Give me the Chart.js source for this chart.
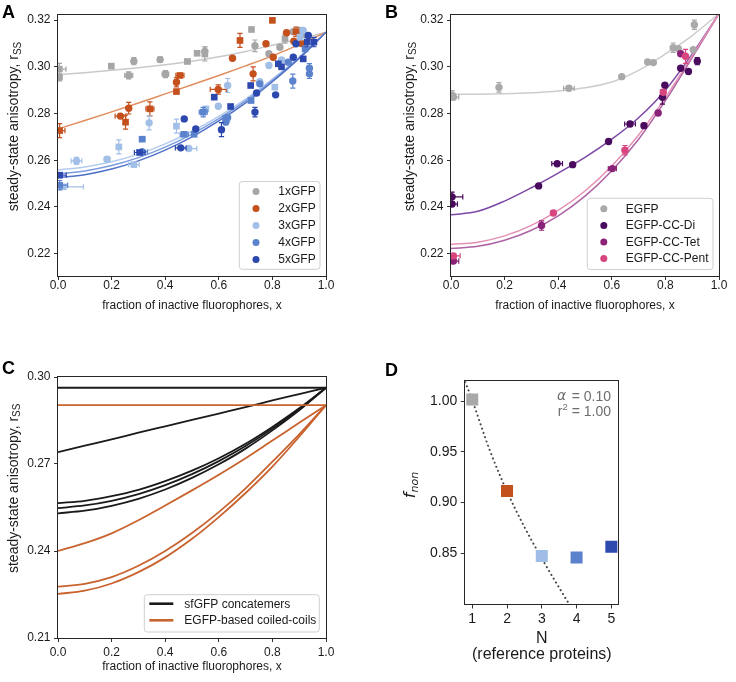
<!DOCTYPE html>
<html><head><meta charset="utf-8">
<script src="https://cdn.jsdelivr.net/npm/chart.js@4.4.1/dist/chart.umd.min.js"></script>
<style>
html,body{margin:0;padding:0;background:#fff;}
#wrap{position:relative;width:736px;height:682px;overflow:hidden;background:#fff;}
#wrap canvas{position:absolute;left:0;top:0;}
.lbl{position:absolute;font-family:"Liberation Sans",Arial,sans-serif;font-weight:bold;font-size:18px;line-height:18px;color:#000;}
</style></head><body>
<div id="wrap">
<canvas id="cA" width="736" height="682"></canvas>
<canvas id="cB" width="736" height="682"></canvas>
<canvas id="cC" width="736" height="682"></canvas>
<canvas id="cD" width="736" height="682"></canvas>
<div class="lbl" style="left:2px;top:3px">A</div>
<div class="lbl" style="left:385px;top:3px">B</div>
<div class="lbl" style="left:2px;top:359px">C</div>
<div class="lbl" style="left:385px;top:361px">D</div>
</div>
<script>
// ---------------- DATA ----------------
// shared x grid of fitted curves
const fitX = [0, 0.1, 0.2, 0.3, 0.4, 0.5, 0.6, 0.7, 0.8, 0.9, 1.0];
const xTicks01 = [0, 0.2, 0.4, 0.6, 0.8, 1.0];

// Panel A : sfGFP concatemers  [x, r_ss, xerr, yerr, marker]
const seriesA = ['1xGFP', '2xGFP', '3xGFP', '4xGFP', '5xGFP'];
const gfp1Points = [
  [0.005,0.2990,0.025,0.0025,'s'],[0.005,0.2955,0.010,0.0015,'s'],[0.199,0.3003,0,0,'s'],
  [0.264,0.2963,0.015,0.0015,'c'],[0.283,0.3024,0,0.0015,'c'],[0.381,0.3031,0,0.0012,'c'],
  [0.401,0.2969,0.012,0.0015,'c'],[0.483,0.3023,0.010,0,'s'],[0.519,0.3058,0,0,'s'],
  [0.548,0.3055,0,0.003,'s'],[0.548,0.3066,0,0.002,'c'],[0.722,0.3160,0,0,'s'],
  [0.735,0.3090,0,0.0025,'c'],[0.787,0.3056,0,0,'c'],[0.828,0.3084,0,0,'c'],
  [0.847,0.3121,0,0.002,'s'],[0.878,0.3150,0,0,'c'],[0.905,0.3157,0,0,'s'],[0.915,0.3140,0,0,'c']
];
const gfp2Points = [
  [0.006,0.2727,0.020,0.003,'s'],[0.233,0.2789,0.020,0,'c'],[0.252,0.2763,0,0.003,'s'],
  [0.264,0.2823,0,0.0025,'c'],[0.343,0.2820,0.015,0.003,'s'],[0.442,0.2894,0,0,'s'],
  [0.442,0.2934,0,0.002,'c'],[0.455,0.2963,0.015,0,'s'],[0.598,0.2903,0.030,0.002,'c'],
  [0.651,0.3037,0,0,'c'],[0.679,0.3113,0,0.003,'s'],[0.728,0.2970,0,0.003,'c'],
  [0.776,0.3099,0,0,'c'],[0.800,0.3199,0,0,'s'],[0.803,0.3041,0,0,'c'],
  [0.853,0.3146,0,0,'c'],[0.888,0.3150,0,0.002,'s'],[0.880,0.3110,0,0,'c'],[0.909,0.3100,0,0,'c']
];
const gfp3Points = [
  [0.020,0.2486,0.075,0,'s'],[0.069,0.2597,0.020,0.0015,'c'],[0.183,0.2604,0.010,0,'c'],
  [0.227,0.2657,0,0.003,'s'],[0.283,0.2581,0.020,0,'s'],[0.340,0.2760,0,0.003,'c'],
  [0.442,0.2746,0,0.003,'s'],[0.488,0.2650,0.030,0,'c'],[0.552,0.2820,0,0,'s'],
  [0.598,0.2831,0,0,'c'],[0.629,0.2771,0,0,'c'],[0.633,0.2920,0,0.003,'c'],
  [0.720,0.2857,0,0,'s'],[0.753,0.2936,0,0,'c'],[0.787,0.3006,0,0,'c'],
  [0.809,0.2913,0,0,'s'],[0.834,0.3029,0,0,'c'],[0.903,0.3127,0,0,'s'],[0.915,0.3156,0,0,'c']
];
const gfp4Points = [
  [0.006,0.2493,0.030,0.002,'s'],[0.314,0.2636,0.020,0,'c'],[0.314,0.2690,0.010,0,'s'],
  [0.471,0.2711,0.015,0,'s'],[0.508,0.2711,0,0,'s'],[0.542,0.2806,0.015,0.002,'s'],
  [0.626,0.2780,0,0,'s'],[0.626,0.2763,0,0,'c'],[0.633,0.2783,0,0,'c'],
  [0.720,0.2856,0,0,'s'],[0.753,0.2927,0,0,'c'],[0.859,0.3020,0,0,'c'],
  [0.876,0.2939,0,0.003,'c'],[0.922,0.3077,0,0,'s'],[0.938,0.2994,0,0.002,'c'],[0.938,0.2970,0,0.002,'c']
];
const gfp5Points = [
  [0.006,0.2536,0.025,0,'s'],[0.305,0.2633,0.020,0,'s'],[0.458,0.2653,0.020,0,'c'],
  [0.471,0.2777,0,0,'c'],[0.514,0.2734,0,0,'c'],[0.583,0.2870,0,0,'s'],
  [0.610,0.2731,0,0.003,'c'],[0.644,0.2830,0,0,'s'],[0.719,0.2920,0,0,'s'],
  [0.735,0.2806,0,0.002,'c'],[0.741,0.2888,0,0,'c'],[0.812,0.2880,0,0,'c'],
  [0.822,0.3013,0,0,'s'],[0.834,0.3000,0,0,'s'],[0.878,0.3041,0,0,'c'],
  [0.888,0.3099,0,0,'c'],[0.915,0.3034,0,0,'s'],[0.930,0.3106,0,0.002,'s'],
  [0.934,0.3134,0,0,'c'],[0.955,0.3106,0,0.002,'s']
];
const fitA1 = [0.2966,0.2975,0.2985,0.2996,0.3009,0.3024,0.3043,0.3066,0.3092,0.3119,0.3148];
const fitA2 = [0.2734,0.2770,0.2807,0.2845,0.2884,0.2923,0.2963,0.3004,0.3047,0.3095,0.3148];
const fitA3 = [0.2558,0.2571,0.2593,0.2626,0.2670,0.2724,0.2788,0.2862,0.2947,0.3042,0.3148];
const fitA4 = [0.2541,0.2554,0.2577,0.2611,0.2656,0.2712,0.2778,0.2854,0.2942,0.3039,0.3148];
const fitA5 = [0.2525,0.2538,0.2562,0.2597,0.2643,0.2700,0.2768,0.2846,0.2936,0.3036,0.3148];
const rssTicksAB = [0.22, 0.24, 0.26, 0.28, 0.30, 0.32];

// Panel B : EGFP-based coiled coils
const seriesB = ['EGFP', 'EGFP-CC-Di', 'EGFP-CC-Tet', 'EGFP-CC-Pent'];
const egfpPoints = [
  [0.009,0.2870,0.020,0.001,'c'],[0.004,0.2878,0.010,0.002,'c'],[0.179,0.2912,0,0.002,'c'],
  [0.440,0.2908,0.020,0.001,'c'],[0.637,0.2958,0,0,'c'],[0.734,0.3021,0,0,'c'],
  [0.755,0.3018,0,0,'c'],[0.829,0.3082,0,0.002,'c'],[0.848,0.3078,0,0,'c'],
  [0.904,0.3073,0,0,'c'],[0.908,0.3180,0,0.002,'c']
];
const diPoints = [
  [0.004,0.2443,0.040,0.002,'c'],[0.004,0.2412,0.020,0,'c'],[0.327,0.2490,0,0,'c'],
  [0.396,0.2585,0.020,0,'c'],[0.454,0.2581,0,0,'c'],[0.588,0.2680,0,0,'c'],
  [0.668,0.2755,0.020,0.001,'c'],[0.720,0.2748,0,0.001,'c'],[0.789,0.2870,0,0.003,'c'],
  [0.798,0.2921,0,0,'c'],[0.857,0.2994,0,0,'c'],[0.886,0.2980,0,0,'c'],[0.919,0.3024,0,0.0015,'c']
];
const tetPoints = [
  [0.009,0.2168,0.020,0,'c'],[0.338,0.2320,0,0.002,'c'],[0.602,0.2564,0.015,0,'c'],
  [0.773,0.2802,0,0,'c'],[0.857,0.3056,0,0,'c']
];
const pentPoints = [
  [0.009,0.2190,0.025,0,'c'],[0.382,0.2374,0,0,'c'],[0.649,0.2643,0,0.002,'c'],
  [0.792,0.2891,0,0,'c'],[0.875,0.3045,0,0.003,'c']
];
const fitB0 = [0.2882,0.2883,0.2885,0.2889,0.2896,0.2910,0.2935,0.2985,0.3055,0.3134,0.3228];
const fitB1 = [0.2366,0.2381,0.2425,0.2482,0.2545,0.2612,0.2690,0.2782,0.2900,0.3055,0.3228];
const fitB2 = [0.2222,0.2231,0.2257,0.2300,0.2362,0.2446,0.2555,0.2690,0.2855,0.3040,0.3228];
const fitB3 = [0.2239,0.2249,0.2276,0.2321,0.2385,0.2468,0.2575,0.2708,0.2868,0.3048,0.3228];

// Panel C : model curves
const seriesC = ['sfGFP concatemers', 'EGFP-based coiled-coils'];
const cBlackFlat = [0.2963,0.2963,0.2963,0.2963,0.2963,0.2963,0.2963,0.2963,0.2963,0.2963,0.2963];
const cBlackLin  = [0.2741,0.2763,0.2785,0.2808,0.2830,0.2852,0.2874,0.2896,0.2919,0.2941,0.2963];
const cBlack3 = [0.2565,0.2573,0.2589,0.2611,0.2641,0.2677,0.2720,0.2770,0.2828,0.2892,0.2963];
const cBlack4 = [0.2548,0.2557,0.2573,0.2596,0.2627,0.2665,0.2710,0.2762,0.2822,0.2889,0.2963];
const cBlack5 = [0.2530,0.2539,0.2556,0.2580,0.2612,0.2652,0.2699,0.2753,0.2816,0.2885,0.2963];
const cOrangeFlat = [0.2903,0.2903,0.2903,0.2903,0.2903,0.2903,0.2903,0.2903,0.2903,0.2903,0.2903];
const cOrangeDi   = [0.2400,0.2427,0.2461,0.2506,0.2557,0.2609,0.2663,0.2720,0.2781,0.2842,0.2903];
const cOrangeTet  = [0.2277,0.2287,0.2310,0.2349,0.2400,0.2462,0.2534,0.2616,0.2708,0.2802,0.2903];
const cOrangePent = [0.2252,0.2263,0.2288,0.2327,0.2378,0.2442,0.2517,0.2600,0.2691,0.2794,0.2903];
const rssTicksC = [0.21, 0.24, 0.27, 0.30];

// Panel D : f_non vs N
const dN = [1, 2, 3, 4, 5];
const dFnon = [1.0017, 0.9114, 0.8474, 0.8459, 0.8565];
const dFitN = [0.8, 1.0, 1.5, 2.0, 2.5, 3.0, 3.5, 3.75];
const dFitF = [1.019, 1.001, 0.952, 0.911, 0.876, 0.845, 0.816, 0.802];
const dTicksX = [1, 2, 3, 4, 5];
const dTicksY = [0.85, 0.90, 0.95, 1.00];

// ---------------- STYLE ----------------
const FONT = "'Liberation Sans', Arial, Helvetica, sans-serif";
const TXT = '#1a1a1a';
const colA = ['#a6a6a6', '#c4501c', '#a2c0e7', '#5a82cd', '#2c48ae'];
const lineColA = ['#c9c9c9', '#e08d5e', '#b3cbee', '#7b9cdc', '#4f70c6'];
const colB = ['#a9a9a9', '#4a0b5e', '#8a2278', '#d8447d'];
const lineColB = ['#cdcdcd', '#7e48a6', '#ad62a3', '#e590b5'];
const colC = ['#1a1a1a', '#c8632e'];
const colD = ['#a8a8a8', '#c2511e', '#9fbde6', '#5a82cc', '#2e4aae'];

Chart.defaults.font.family = FONT;
Chart.defaults.color = TXT;

function scatterSet(label, pts, color, order, rc, rs) {
  return {
    type: 'scatter', label: label,
    data: pts.map(p => ({x: p[0], y: p[1]})),
    errs: pts.map(p => [p[2], p[3]]),
    pointStyle: pts.map(p => p[4] === 's' ? 'rect' : 'circle'),
    pointRadius: pts.map(p => p[4] === 's' ? rs : rc),
    backgroundColor: color, borderColor: color, pointBorderWidth: 0,
    order: order, clip: 0
  };
}
function lineSet(xs, ys, color, width, order, extra) {
  return Object.assign({
    type: 'line', data: xs.map((x, i) => ({x: x, y: ys[i]})),
    borderColor: color, borderWidth: width, pointRadius: 0, fill: false,
    cubicInterpolationMode: 'monotone', order: order, clip: 0
  }, extra || {});
}
function axis(min, max, ticksArr, dec, fontSize, pad, fit, isX, title, tickLen) {
  return {
    type: 'linear', min: min, max: max,
    afterBuildTicks: s => { s.ticks = ticksArr.map(v => ({value: v})); },
    afterFit: s => { if (isX) s.height = fit; else s.width = fit; },
    ticks: {callback: v => Number(v).toFixed(dec), font: {size: fontSize, lineHeight: 1},
            padding: pad, color: TXT, maxRotation: 0, autoSkip: false},
    grid: {display: true, drawOnChartArea: false, drawTicks: true, tickLength: tickLen || 4,
           tickColor: '#333', tickWidth: 1},
    border: {display: false},
    title: title ? {display: true, text: title.text, color: TXT, padding: 0,
                    font: {size: title.size, lineHeight: title.lh}} : {display: false}
  };
}
function roundRectPath(ctx, x, y, w, h, r) {
  ctx.beginPath();
  ctx.moveTo(x + r, y); ctx.lineTo(x + w - r, y); ctx.arcTo(x + w, y, x + w, y + r, r);
  ctx.lineTo(x + w, y + h - r); ctx.arcTo(x + w, y + h, x + w - r, y + h, r);
  ctx.lineTo(x + r, y + h); ctx.arcTo(x, y + h, x, y + h - r, r);
  ctx.lineTo(x, y + r); ctx.arcTo(x, y, x + r, y, r); ctx.closePath();
}
function makeDecor(cfg) {
  return {
    id: 'decor',
    beforeDatasetDraw(chart, args) {
      const ds = chart.data.datasets[args.index];
      if (!ds.errs) return;
      const ctx = chart.ctx, ca = chart.chartArea, sx = chart.scales.x, sy = chart.scales.y;
      ctx.save();
      ctx.beginPath(); ctx.rect(ca.left, ca.top, ca.right - ca.left, ca.bottom - ca.top); ctx.clip();
      ctx.strokeStyle = ds.borderColor; ctx.lineWidth = 1.2;
      const cap = 2.6;
      ds.data.forEach((d, i) => {
        const ex = ds.errs[i][0], ey = ds.errs[i][1];
        const px = sx.getPixelForValue(d.x), py = sy.getPixelForValue(d.y);
        ctx.beginPath();
        if (ex > 0) {
          const a = sx.getPixelForValue(d.x - ex), b = sx.getPixelForValue(d.x + ex);
          ctx.moveTo(a, py); ctx.lineTo(b, py);
          ctx.moveTo(a, py - cap); ctx.lineTo(a, py + cap);
          ctx.moveTo(b, py - cap); ctx.lineTo(b, py + cap);
        }
        if (ey > 0) {
          const a = sy.getPixelForValue(d.y - ey), b = sy.getPixelForValue(d.y + ey);
          ctx.moveTo(px, a); ctx.lineTo(px, b);
          ctx.moveTo(px - cap, a); ctx.lineTo(px + cap, a);
          ctx.moveTo(px - cap, b); ctx.lineTo(px + cap, b);
        }
        ctx.stroke();
      });
      ctx.restore();
    },
    afterDatasetsDraw(chart) {
      const ctx = chart.ctx, ca = chart.chartArea;
      ctx.save();
      // frame
      ctx.strokeStyle = '#262626'; ctx.lineWidth = 1;
      ctx.strokeRect(Math.round(ca.left) - 0.5, Math.round(ca.top) - 0.5,
                     Math.round(ca.right - ca.left) + 1, Math.round(ca.bottom - ca.top) + 1);
      // y title with subscript
      const t = cfg.yTitle;
      if (t) {
        ctx.save();
        ctx.translate(ca.left - t.dx, ca.top + t.dy);
        ctx.rotate(-Math.PI / 2);
        ctx.fillStyle = TXT; ctx.textBaseline = 'middle'; ctx.textAlign = 'left';
        ctx.font = t.font; const wm = ctx.measureText(t.main).width;
        ctx.font = t.subFont; const ws = ctx.measureText(t.sub).width;
        const x0 = -(wm + ws) / 2;
        ctx.font = t.font; ctx.fillText(t.main, x0, 0);
        ctx.font = t.subFont; ctx.fillText(t.sub, x0 + wm, t.subDy);
        ctx.restore();
      }
      // legend
      const L = cfg.legend;
      if (L) {
        const left = ca.right - L.rInset - L.w, top = ca.bottom - L.bInset - L.h;
        roundRectPath(ctx, left, top, L.w, L.h, 3);
        ctx.fillStyle = 'rgba(255,255,255,0.85)'; ctx.fill();
        ctx.strokeStyle = '#cfcfcf'; ctx.lineWidth = 1; ctx.stroke();
        L.labels.forEach((lab, i) => {
          const y = top + L.y0 + i * L.dy;
          if (L.kind === 'line') {
            ctx.strokeStyle = L.colors[i]; ctx.lineWidth = 2.6;
            ctx.beginPath(); ctx.moveTo(left + L.lx0, y); ctx.lineTo(left + L.lx1, y); ctx.stroke();
          } else {
            ctx.fillStyle = L.colors[i];
            ctx.beginPath(); ctx.arc(left + L.mx, y, L.r, 0, Math.PI * 2); ctx.fill();
          }
          ctx.fillStyle = TXT; ctx.font = L.font; ctx.textBaseline = 'middle'; ctx.textAlign = 'left';
          ctx.fillText(lab, left + L.tx, y + 0.5);
        });
      }
      // notes (panel D)
      if (cfg.notes) {
        const n = cfg.notes;
        ctx.fillStyle = '#6e6e6e'; ctx.textBaseline = 'middle';
        const xr = ca.right - n.rInset;
        let y = ca.top + n.y1;
        ctx.font = n.font; ctx.textAlign = 'right';
        ctx.fillText(n.val1, xr, y);
        let w = ctx.measureText(n.val1).width;
        ctx.font = n.italFont; ctx.fillText(n.sym1, xr - w - 1, y);
        y = ca.top + n.y2;
        ctx.font = n.font; ctx.fillText(n.val2, xr, y);
        w = ctx.measureText(n.val2).width;
        ctx.font = n.supFont; ctx.fillText(n.sup2, xr - w, y - 5);
        const ws2 = ctx.measureText(n.sup2).width;
        ctx.font = n.font; ctx.fillText(n.sym2, xr - w - ws2, y);
      }
      ctx.restore();
    }
  };
}
const baseOpts = {responsive: false, animation: false, events: [],
                  plugins: {legend: {display: false}, tooltip: {enabled: false}}};
const yTitleFont = '14px ' + FONT, ySubFont = '10px ' + FONT;

// ---------------- PANEL A ----------------
const ptsA = [gfp1Points, gfp2Points, gfp3Points, gfp4Points, gfp5Points];
const fitsA = [fitA1, fitA2, fitA3, fitA4, fitA5];
const dsA = [];
fitsA.forEach((f, i) => dsA.push(lineSet(fitX, f, lineColA[i], 1.5, 20 - i)));
ptsA.forEach((p, i) => dsA.push(scatterSet(seriesA[i], p, colA[i], 10 - i, 3.7, 4.7)));
new Chart(document.getElementById('cA'), {
  type: 'scatter', data: {datasets: dsA},
  options: Object.assign({}, baseOpts, {
    layout: {padding: {left: 0, top: 15, right: 410, bottom: 369.5}},
    scales: {
      x: axis(0, 1, xTicks01, 1, 12, 0, 36.5, true, {text: 'fraction of inactive fluorophores, x', size: 12, lh: 1.2}),
      y: axis(0.2104, 0.3222, rssTicksAB, 2, 12, 3.5, 58, false, null)
    }
  }),
  plugins: [makeDecor({
    yTitle: {main: 'steady-state anisotropy, r', sub: 'SS', font: yTitleFont, subFont: ySubFont, subDy: 3.5, dx: 43.7, dy: 111.5},
    legend: {labels: seriesA, colors: colA, kind: 'dot', w: 80.7, h: 87.8, rInset: 6, bInset: 6.7,
             y0: 10, dy: 17, mx: 16.7, tx: 39, r: 3.5, font: '12px ' + FONT}
  })]
});

// ---------------- PANEL B ----------------
const ptsB = [egfpPoints, diPoints, tetPoints, pentPoints];
const fitsB = [fitB0, fitB1, fitB2, fitB3];
const dsB = [];
fitsB.forEach((f, i) => dsB.push(lineSet(fitX, f, lineColB[i], 1.5, 20 - i)));
ptsB.forEach((p, i) => dsB.push(scatterSet(seriesB[i], p, colB[i], 10 - i, 3.7, 4.7)));
new Chart(document.getElementById('cB'), {
  type: 'scatter', data: {datasets: dsB},
  options: Object.assign({}, baseOpts, {
    layout: {padding: {left: 411, top: 15, right: 17, bottom: 369.5}},
    scales: {
      x: axis(0, 1, xTicks01, 1, 12, 0, 36.5, true, {text: 'fraction of inactive fluorophores, x', size: 12, lh: 1.2}),
      y: axis(0.2104, 0.3222, rssTicksAB, 2, 12, 3.5, 40, false, null)
    }
  }),
  plugins: [makeDecor({
    yTitle: {main: 'steady-state anisotropy, r', sub: 'SS', font: yTitleFont, subFont: ySubFont, subDy: 3.5, dx: 41, dy: 111.5},
    legend: {labels: seriesB, colors: colB, kind: 'dot', w: 125.7, h: 71.3, rInset: 6, bInset: 6.4,
             y0: 10.5, dy: 16.6, mx: 16.5, tx: 38.5, r: 3.5, font: '12px ' + FONT}
  })]
});

// ---------------- PANEL C ----------------
const dsC = [
  lineSet(fitX, cBlackFlat, colC[0], 1.8, 5), lineSet(fitX, cBlackLin, colC[0], 1.8, 5),
  lineSet(fitX, cBlack3, colC[0], 1.8, 5), lineSet(fitX, cBlack4, colC[0], 1.8, 5),
  lineSet(fitX, cBlack5, colC[0], 1.8, 5),
  lineSet(fitX, cOrangeFlat, colC[1], 1.8, 4), lineSet(fitX, cOrangeDi, colC[1], 1.8, 4),
  lineSet(fitX, cOrangeTet, colC[1], 1.8, 4), lineSet(fitX, cOrangePent, colC[1], 1.8, 4)
];
new Chart(document.getElementById('cC'), {
  type: 'scatter', data: {datasets: dsC},
  options: Object.assign({}, baseOpts, {
    layout: {padding: {left: 0, top: 377, right: 410, bottom: 8}},
    scales: {
      x: axis(0, 1, xTicks01, 1, 12, 4.3, 36, true, {text: 'fraction of inactive fluorophores, x', size: 12, lh: 1.2}),
      y: axis(0.21, 0.30, rssTicksC, 2, 12, 3.5, 58, false, null)
    }
  }),
  plugins: [makeDecor({
    yTitle: {main: 'steady-state anisotropy, r', sub: 'SS', font: yTitleFont, subFont: ySubFont, subDy: 3.5, dx: 44, dy: 111.3},
    legend: {labels: seriesC, colors: colC, kind: 'line', w: 175, h: 37.3, rInset: 6.7, bInset: 6,
             y0: 9, dy: 16.6, lx0: 5, lx1: 29, tx: 40, font: '12px ' + FONT}
  })]
});

// ---------------- PANEL D ----------------
const dsD = [
  lineSet(dFitN, dFitF, '#444444', 2, 5, {borderDash: [0.1, 4.4], borderCapStyle: 'round'}),
  {type: 'scatter', data: dN.map((n, i) => ({x: n, y: dFnon[i]})), pointStyle: 'rect', pointRadius: 8.5,
   pointBackgroundColor: colD, pointBorderColor: colD, pointBorderWidth: 0, order: 1, clip: 0}
];
new Chart(document.getElementById('cD'), {
  type: 'scatter', data: {datasets: dsD},
  options: Object.assign({}, baseOpts, {
    layout: {padding: {left: 420, top: 381, right: 117.7, bottom: 18.65}},
    scales: {
      x: axis(0.8, 5.2, dTicksX, 0, 14, 3.8, 59.35, true, {text: ['N', '(reference proteins)'], size: 16, lh: 1.05}, 4.5),
      y: axis(0.80, 1.02, dTicksY, 2, 14, 3.5, 45.3, false, null, 4.5)
    }
  }),
  plugins: [makeDecor({
    yTitle: {main: 'f', sub: 'non', font: 'italic 16px "DejaVu Sans"', subFont: 'italic 11px "DejaVu Sans"', subDy: 4, dx: 54, dy: 104},
    notes: {rInset: 7.3, y1: 15.7, y2: 31, font: '14px ' + FONT, italFont: 'italic 14px "DejaVu Sans"',
            supFont: '9.5px ' + FONT, val1: '= 0.10', sym1: 'α ', val2: ' = 1.00', sup2: '2', sym2: 'r'}
  })]
});
</script>
</body></html>
